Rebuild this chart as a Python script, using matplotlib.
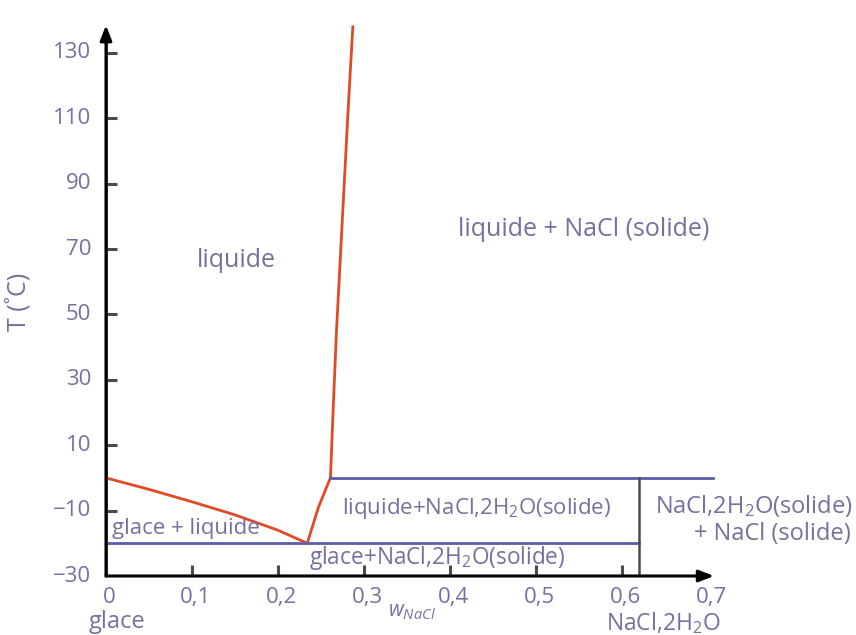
import numpy as np
import matplotlib
matplotlib.use("Agg")
import matplotlib.pyplot as plt
from matplotlib.ticker import FixedLocator

plt.rcParams['font.family'] = ['Open Sans', 'DejaVu Sans']
plt.rcParams['mathtext.fontset'] = 'custom'
plt.rcParams['mathtext.rm'] = 'Open Sans'
plt.rcParams['mathtext.it'] = 'Open Sans:italic'

# liquidus branches (w_NaCl, T in degC)
ice_w = [0.0, 0.05, 0.10, 0.15, 0.20, 0.234]
ice_T = [0.0, -3.5, -7.3, -11.3, -16.0, -20.0]
hyd_w = [0.234, 0.247, 0.261]
hyd_T = [-20.0, -9.0, 0.1]
nacl_w = [0.261, 0.264, 0.268, 0.274, 0.281, 0.287]
nacl_T = [0.1, 20.0, 45.0, 75.0, 110.0, 138.0]

# invariant lines
eut_T = -20.0
eut_w = [0.0, 0.62]
per_T = 0.1
per_w = [0.261, 0.706]
hydrate_w = 0.62

x_ticks = [0.1, 0.2, 0.3, 0.4, 0.5, 0.6]
x_labels = [0, 0.1, 0.2, 0.3, 0.4, 0.5, 0.6, 0.7]
y_ticks = [-30, -10, 10, 30, 50, 70, 90, 110, 130]

red = '#e04a25'
blue = '#5c5ca8'
txt = '#786f9e'
axc = '#4a4a4a'

fig = plt.figure(figsize=(8.56, 6.35), dpi=100)
ax = fig.add_axes([106 / 856, 59 / 635, 0.72 * 860 / 856, 170 * 3.269 / 635])
ax.set_xlim(0, 0.72)
ax.set_ylim(-30, 140)
for s in ax.spines.values():
    s.set_visible(False)

# axes with arrows
ax.annotate('', xy=(0.707, -30), xytext=(0, -30),
            arrowprops=dict(arrowstyle='-|>,head_length=0.9,head_width=0.35', color='black',
                            lw=2.2, shrinkA=0, shrinkB=0))
ax.annotate('', xy=(0, 138.5), xytext=(0, -30),
            arrowprops=dict(arrowstyle='-|>,head_length=0.9,head_width=0.35', color='black',
                            lw=2.2, shrinkA=0, shrinkB=0))
ax.plot([0, 0.69], [-30, -30], color=axc, lw=2.2, solid_capstyle='butt')
ax.plot([0, 0], [-30, 134], color=axc, lw=2.2, solid_capstyle='butt')

# ticks
ax.xaxis.set_major_locator(FixedLocator(x_ticks))
ax.yaxis.set_major_locator(FixedLocator(y_ticks[1:]))
ax.tick_params(axis='both', direction='in', length=8, width=2.2, color=axc,
               labelbottom=False, labelleft=False)
for v in x_labels:
    ax.text(v + 0.004, -33.5, ('%g' % v).replace('.', ','), ha='center', va='top',
            fontsize=16, color=txt)
for v in y_ticks:
    ax.text(-0.017, v, '%d' % v if v >= 0 else '\u2212%d' % -v, ha='right', va='center',
            fontsize=16, color=txt)

# phase lines
ax.plot(ice_w, ice_T, color=red, lw=2)
ax.plot(hyd_w, hyd_T, color=red, lw=2)
ax.plot(nacl_w, nacl_T, color=red, lw=2)
ax.plot(eut_w, [eut_T, eut_T], color=blue, lw=2)
ax.plot(per_w, [per_T, per_T], color=blue, lw=2)
ax.plot([hydrate_w, hydrate_w], [-30, per_T], color=axc, lw=1.8)

# region labels
fs = 16
ax.text(0.152, 66.5, 'liquide', ha='center', va='center', fontsize=18, color=txt)
ax.text(0.556, 76, 'liquide + NaCl (solide)', ha='center', va='center', fontsize=18, color=txt)
ax.text(0.431, -9.5, 'liquide+NaCl,2H$_2$O(solide)', ha='center', va='center', fontsize=fs, color=txt)
ax.text(0.007, -15.5, 'glace + liquide', ha='left', va='center', fontsize=fs, color=txt)
ax.text(0.385, -24.5, 'glace+NaCl,2H$_2$O(solide)', ha='center', va='center', fontsize=16.3, color=txt)
ax.text(0.868, -10.7, 'NaCl,2H$_2$O(solide)', ha='right', va='baseline',
        fontsize=17, color=txt, clip_on=False)
ax.text(0.866, -19.0, '+ NaCl (solide)', ha='right', va='baseline',
        fontsize=17, color=txt, clip_on=False)

# axis labels
ax.text(0.3555, -37.5, '$w_{NaCl}$', ha='center', va='top', fontsize=15, color=txt)
ax.text(0.013, -40.5, 'glace', ha='center', va='top', fontsize=17, color=txt)
ax.text(0.648, -40.5, 'NaCl,2H$_2$O', ha='center', va='top', fontsize=16.5, color=txt)
fig.text(19 / 856, 1 - 302 / 635, 'T (\u02daC)', rotation=90, ha='center', va='center',
         fontsize=18, color=txt)

fig.savefig('out.png', dpi=100)
